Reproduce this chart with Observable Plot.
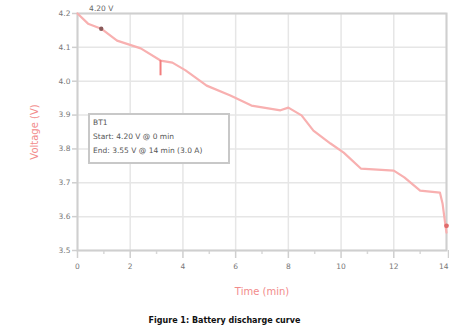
<!DOCTYPE html>
<html>
<head>
<meta charset="utf-8">
<script src="https://cdn.jsdelivr.net/npm/d3@7"></script>
<script src="https://cdn.jsdelivr.net/npm/@observablehq/plot@0.6"></script>
<style>
  body { margin: 0; background: #fff; font-family: "DejaVu Sans", sans-serif; }
  #wrap { position: relative; width: 449px; height: 331px; overflow: hidden; }
  #chart svg { overflow: visible; }
  #legend { position: absolute; left: 88px; top: 113px; width: 135px; height: 46px;
    border: 2px solid #c8c8c8; background: #fff; font-size: 7.5px; color: #555;
    line-height: 14px; padding: 1px 0 0 3px; box-sizing: content-box; }
  #caption { position: absolute; left: 0; width: 449px; top: 316px; text-align: center;
    font-size: 8px; font-weight: bold; color: #111; }
</style>
</head>
<body>
<div id="wrap">
  <div id="chart"></div>
  <div id="legend"><div>BT1</div><div>Start: 4.20 V @ 0 min</div><div>End: 3.55 V @ 14 min (3.0 A)</div></div>
  <div id="caption">Figure 1: Battery discharge curve</div>
</div>
<script>
const timeMin = [0, 0.4, 0.9, 1.5, 2.4, 3.15, 3.6, 4.1, 4.9, 5.8, 6.6, 7.7, 8.0, 8.5, 8.95, 9.6, 10.1, 10.75, 12.0, 12.4, 13.0, 13.75, 13.85, 13.95, 14.0];
const voltage = [4.20, 4.17, 4.155, 4.12, 4.097, 4.061, 4.055, 4.032, 3.987, 3.958, 3.928, 3.914, 3.922, 3.899, 3.854, 3.816, 3.789, 3.742, 3.736, 3.716, 3.677, 3.671, 3.639, 3.58, 3.553];
const xTicks = [0, 2, 4, 6, 8, 10, 12];
const xLastTick = [14];
const xMinorTicks = [1, 3, 5, 7, 9, 11, 13];
const yTicks = [3.5, 3.6, 3.7, 3.8, 3.9, 4.0, 4.1, 4.2];
const startLabel = ["4.20 V"];
const markTimes = [0.9, 3.15];
const endTime = [14.0];

const data = timeMin.map((t, i) => ({t, v: voltage[i]}));
const pick = (t) => data.find(d => d.t === t);

const chart = Plot.plot({
  width: 449,
  height: 308,
  marginLeft: 77,
  marginRight: 3,
  marginTop: 13,
  marginBottom: 58,
  style: {fontFamily: "DejaVu Sans, sans-serif", fontSize: "7.5px", color: "#666", background: "white", overflow: "visible"},
  x: {type: "linear", domain: [0, 14], label: null},
  y: {type: "linear", domain: [3.5, 4.2], label: null},
  marks: [
    Plot.gridX(xTicks.concat(xLastTick), {stroke: "#e6e6e6", strokeOpacity: 1, strokeWidth: 1.5}),
    Plot.gridY(yTicks, {stroke: "#e6e6e6", strokeOpacity: 1, strokeWidth: 1.5}),
    Plot.axisX(xMinorTicks, {tickSize: 4, text: null, stroke: "#d8d8d8", strokeWidth: 1.5}),
    Plot.axisX(xTicks, {tickSize: 8, tickPadding: 5, stroke: "#cfcfcf", fill: "#777", strokeWidth: 1.5, tickFormat: d3.format("d"), label: "Time (min)", labelAnchor: "center", labelOffset: 44, labelArrow: "none"}),
    Plot.axisX(xLastTick, {tickSize: 8, tickPadding: 5, stroke: "#cfcfcf", fill: "#777", strokeWidth: 1.5, tickFormat: d3.format("d"), textAnchor: "end", dx: 2, label: null}),
    Plot.axisY(yTicks, {tickSize: 5, tickPadding: 2, stroke: "#cfcfcf", fill: "#777", strokeWidth: 1.5, tickFormat: d3.format(".1f"), label: "Voltage (V)", labelAnchor: "center", labelOffset: 47, labelArrow: "none"}),
    Plot.frame({stroke: "#cfcfcf", strokeWidth: 2}),
    Plot.line(data, {x: "t", y: "v", stroke: "#f8b0b0", strokeWidth: 2.2}),
    Plot.dot(markTimes.slice(0, 1).map(pick), {x: "t", y: "v", r: 2.2, fill: "#8a5a5a"}),
    Plot.ruleX(markTimes.slice(1).map(pick), {x: "t", y1: "v", y2: d => d.v - 0.045, stroke: "#f27d7d", strokeWidth: 2}),
    Plot.text(startLabel, {x: () => 0.9, y: () => 4.2, text: d => d, dy: -5, fill: "#666", fontSize: 7.5}),
    Plot.dot(endTime.map(pick), {x: "t", y: d => d.v + 0.02, r: 2.4, fill: "#e06c6c"})
  ]
});
chart.querySelectorAll("g[aria-label='x-axis label'] text, g[aria-label='y-axis label'] text").forEach(t => {
  t.setAttribute("fill", "#f28b8b");
  t.style.fontSize = "10px";
});
document.getElementById("chart").appendChild(chart);
</script>
</body>
</html>
